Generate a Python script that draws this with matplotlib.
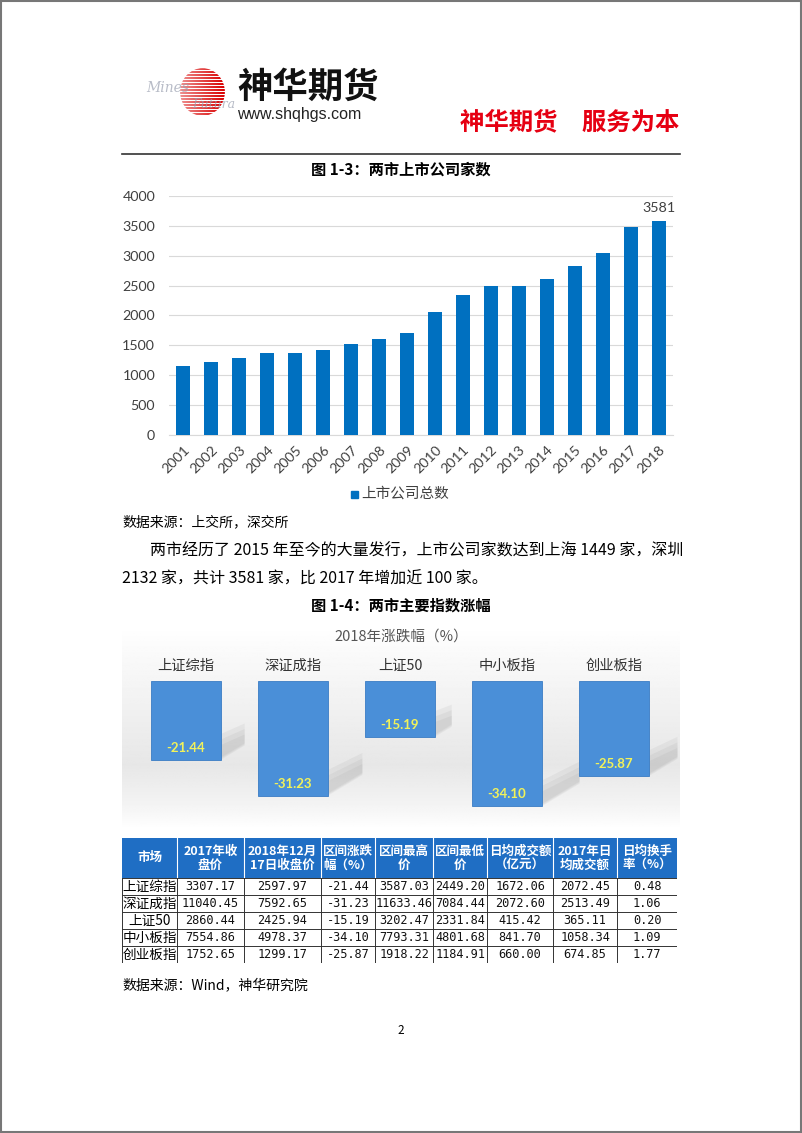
import matplotlib
matplotlib.use("Agg")
import matplotlib.pyplot as plt
import numpy as np
from matplotlib.patches import Rectangle, Circle, Polygon

plt.rcParams["font.family"] = ["Noto Sans CJK SC", "DejaVu Sans"]

W, H = 802, 1133

# ---- data ----
years = [str(y) for y in range(2001, 2019)]
companies = [1154, 1223, 1285, 1373, 1377, 1421, 1530, 1602, 1700,
             2063, 2342, 2494, 2489, 2613, 2827, 3052, 3485, 3581]

index_names = ["上证综指", "深证成指", "上证50", "中小板指", "创业板指"]
index_change = [-21.44, -31.23, -15.19, -34.10, -25.87]

table_header = ["市场", "2017年收\n盘价", "2018年12月\n17日收盘价", "区间涨跌\n幅（%）",
                "区间最高\n价", "区间最低\n价", "日均成交额\n（亿元）", "2017年日\n均成交额",
                "日均换手\n率（%）"]
close_2017 = ["3307.17", "11040.45", "2860.44", "7554.86", "1752.65"]
close_20181217 = ["2597.97", "7592.65", "2425.94", "4978.37", "1299.17"]
pct_change = ["-21.44", "-31.23", "-15.19", "-34.10", "-25.87"]
high = ["3587.03", "11633.46", "3202.47", "7793.31", "1918.22"]
low = ["2449.20", "7084.44", "2331.84", "4801.68", "1184.91"]
turnover = ["1672.06", "2072.60", "415.42", "841.70", "660.00"]
turnover_2017 = ["2072.45", "2513.49", "365.11", "1058.34", "674.85"]
turnover_rate = ["0.48", "1.06", "0.20", "1.09", "1.77"]

BLUE = "#0070C0"
RED = "#E60012"
LATIN = ["Lato", "Noto Sans CJK SC"]


def fx(x):
    return x / W


def fy(y):
    return 1 - y / H


def add_ax(x0, y0, x1, y1):
    return fig.add_axes([fx(x0), fy(y1), (x1 - x0) / W, (y1 - y0) / H])


fig = plt.figure(figsize=(W / 100, H / 100), dpi=100)
fig.patch.set_facecolor("white")

# page border
bd = fig.add_axes([0, 0, 1, 1], zorder=-5)
bd.set_xlim(0, W)
bd.set_ylim(H, 0)
bd.axis("off")
bd.add_patch(Rectangle((0.5, 0.5), W - 2, H - 2, fill=False, ec="#777777", lw=1.5))
# header rule
bd.plot([122, 680], [154, 154], color="#333333", lw=1.2)

# ---- header logo ----
lg = add_ax(179, 67, 226, 117)
lg.set_xlim(-1.05, 1.05)
lg.set_ylim(-1.05, 1.05)
lg.axis("off")
n_rows = 48
stripe = np.ones((n_rows, 60, 3))
for r in range(n_rows):
    if r % 3 != 2:
        t = np.linspace(0.3, 1.0, 60)
        stripe[r, :, 0] = 0.97 - 0.12 * t
        stripe[r, :, 1] = 0.8 * (1 - t)
        stripe[r, :, 2] = 0.8 * (1 - t)
im = lg.imshow(stripe, extent=[-1, 1, -1, 1], aspect="auto")
circ = Circle((0, 0), 1.0, transform=lg.transData)
im.set_clip_path(circ)
fig.text(fx(146), fy(88), "Mines", fontsize=10, style="italic", family="DejaVu Serif",
         color="#9aa0b0", alpha=0.7, va="center")
fig.text(fx(192), fy(104), "Futura", fontsize=9, style="italic", family="DejaVu Serif",
         color="#9aa0b0", alpha=0.7, va="center")
fig.text(fx(237), fy(87), "神华期货", fontsize=25.5, weight="heavy", color="#111111",
         va="center", ha="left")
fig.text(fx(237), fy(115), "www.shqhgs.com", fontsize=11.5, family="Liberation Sans",
         color="#222222", va="center", ha="left")
fig.text(fx(679), fy(122), "神华期货　服务为本", fontsize=17.6, weight="bold", color=RED,
         va="center", ha="right")

# ---- figure 1-3 ----
fig.text(0.5, fy(170), "图 1-3：两市上市公司家数", fontsize=11, weight="bold",
         ha="center", va="center")

ax = add_ax(169, 196, 673, 435)
x = np.arange(len(years))
ax.bar(x, companies, width=0.5, color=BLUE, zorder=3)
ax.set_xlim(-0.5, len(years) - 0.5)
ax.set_ylim(0, 4000)
ax.set_yticks(range(0, 4001, 500))
ax.set_xticks(x)
ax.set_xticklabels(years, rotation=45, ha="right", rotation_mode="anchor")
ax.yaxis.grid(True, color="#D9D9D9", lw=0.8, zorder=0)
for s in ["top", "right", "left"]:
    ax.spines[s].set_visible(False)
ax.spines["bottom"].set_color("#D9D9D9")
ax.tick_params(length=0, labelsize=10.3, labelcolor="#404040")
ax.tick_params(axis="y", pad=10)
ax.tick_params(axis="x", pad=6)
for lab in ax.get_xticklabels() + ax.get_yticklabels():
    lab.set_family(LATIN)
ax.text(x[-1], companies[-1] + 110, str(companies[-1]), ha="center", va="bottom",
        fontsize=10.3, color="#404040", family=LATIN)

fig.patches.append(Rectangle((fx(351), fy(498)), 7 / W, 7 / H, color=BLUE,
                             transform=fig.transFigure, figure=fig))
fig.text(fx(361), fy(494), "上市公司总数", fontsize=10.5, color="#404040", va="center")

fig.text(fx(122), fy(522), "数据来源：上交所，深交所", fontsize=10, va="center")
fig.text(fx(150), fy(551), "两市经历了 2015 年至今的大量发行，上市公司家数达到上海 1449 家，深圳",
         fontsize=11.5, va="center")
fig.text(fx(122), fy(579), "2132 家，共计 3581 家，比 2017 年增加近 100 家。",
         fontsize=11.5, va="center")
fig.text(0.5, fy(606), "图 1-4：两市主要指数涨幅", fontsize=11, weight="bold",
         ha="center", va="center")

# ---- figure 1-4 ----
px_per_unit = 3.67
ix = add_ax(122, 625, 680, 830)
xl = ((122 - 186) / 107, (680 - 186) / 107)
yl = (-(830 - 681) / px_per_unit, (681 - 625) / px_per_unit)
ix.set_xlim(*xl)
ix.set_ylim(*yl)
ix.axis("off")
prof_y = [625, 645, 690, 765, 805, 830]
prof_v = [1.0, 0.985, 0.955, 0.905, 0.955, 1.0]
rows = np.interp(np.linspace(625, 830, 200), prof_y, prof_v)
bg = np.repeat(rows[:, None], 2, axis=1)
ix.imshow(bg, cmap="gray", vmin=0, vmax=1, extent=[xl[0], xl[1], yl[0], yl[1]],
          aspect="auto", zorder=0)
bw = 70 / 107
for i, v in enumerate(index_change):
    right = i + bw / 2
    L = 0.3 * abs(v) * px_per_unit / 107
    dy = 0.18 * abs(v)
    for k, a in enumerate([0.10, 0.10, 0.10]):
        th = 6 - 1.5 * k
        shadow = Polygon([(right, v + 0.3 * k), (right + L, v + dy + 0.3 * k),
                          (right + L, v + dy + th), (right, v + th + 1)],
                         closed=True, color="#8c8c8c", alpha=a, lw=0, zorder=1)
        ix.add_patch(shadow)
ix.bar(range(len(index_names)), index_change, width=bw, color="#4A8FD8",
       edgecolor="#3A7CC4", lw=0.6, zorder=2)
for i, (name, v) in enumerate(zip(index_names, index_change)):
    ix.text(i, v + 3.2, f"{v:.2f}", ha="center", va="center", fontsize=9.5,
            weight="bold", color="#F2F25A", zorder=4, family=LATIN)
    ix.text(i, 4.1, name, ha="center", va="center", fontsize=10.3, color="#333333")
ix.text((xl[0] + xl[1]) / 2, 12.0, "2018年涨跌幅（%）", ha="center", va="center",
        fontsize=10.5, color="#555555")

# ---- table ----
tb = add_ax(122, 838, 677, 963)
tb.set_xlim(122, 677)
tb.set_ylim(963, 838)
tb.axis("off")
col_edges = [122, 177, 244, 321, 375, 433, 487, 553, 617, 677]
row_edges = [838, 878, 895, 912, 929, 946, 963]
columns = [index_names, close_2017, close_20181217, pct_change, high, low,
           turnover, turnover_2017, turnover_rate]
tb.add_patch(Rectangle((col_edges[0], row_edges[0]), col_edges[-1] - col_edges[0],
                       row_edges[1] - row_edges[0], color="#1F6EC4", lw=0))
for c, head in enumerate(table_header):
    cx = (col_edges[c] + col_edges[c + 1]) / 2
    tb.text(cx, (row_edges[0] + row_edges[1]) / 2, head, ha="center", va="center",
            fontsize=9, weight="bold", color="white", linespacing=1.1)
    for r, val in enumerate(columns[c]):
        cy = (row_edges[r + 1] + row_edges[r + 2]) / 2
        if c == 0:
            tb.text(cx, cy, val, ha="center", va="center", fontsize=9.8)
        else:
            tb.text(cx, cy, val, ha="center", va="center", fontsize=8.6,
                    family="DejaVu Sans Mono", color="#111111")
for e in col_edges[1:-1]:
    tb.plot([e, e], [row_edges[0], row_edges[1]], color="white", lw=0.8)
    tb.plot([e, e], [row_edges[1], row_edges[-1]], color="#333333", lw=0.7)
for e in row_edges[1:]:
    tb.plot([col_edges[0], col_edges[-1]], [e, e], color="#333333", lw=0.7)
tb.plot([col_edges[0], col_edges[0]], [row_edges[1], row_edges[-1]], color="#333333", lw=0.7)
tb.plot([col_edges[-1], col_edges[-1]], [row_edges[1], row_edges[-1]], color="#333333", lw=0.7)

fig.text(fx(122), fy(985), "数据来源：Wind，神华研究院", fontsize=10, va="center")
fig.text(0.5, fy(1030), "2", fontsize=8.5, ha="center", va="center")

fig.savefig("out.png", dpi=100)
